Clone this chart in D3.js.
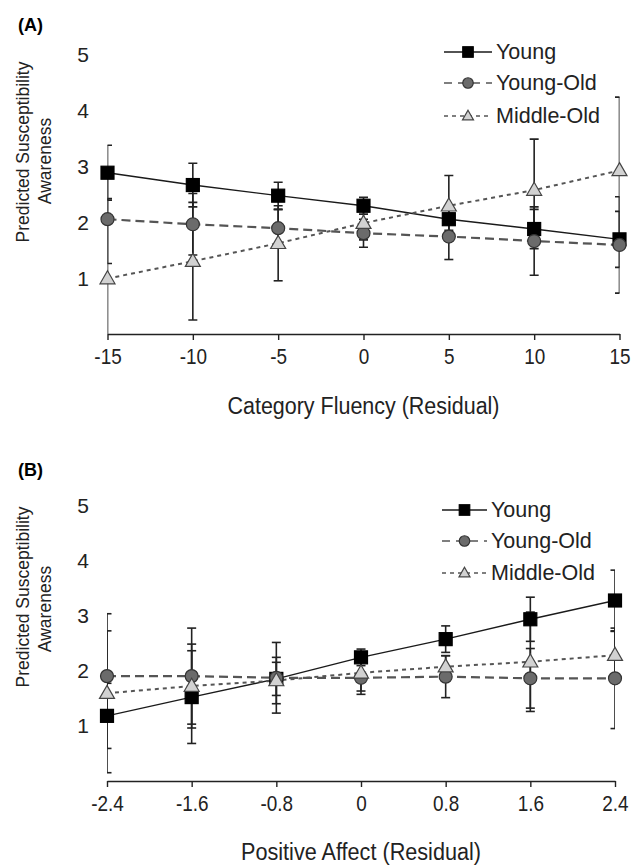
<!DOCTYPE html>
<html>
<head>
<meta charset="utf-8">
<script src="https://cdn.jsdelivr.net/npm/d3@7"></script>
<style>
  html, body { margin: 0; padding: 0; background: #fff; }
  svg { display: block; font-family: 'Liberation Sans', Arial, sans-serif; }
</style>
</head>
<body>
<div id="chart"></div>
<script>
// panel A: category fluency
const fluencyTicks = [-15, -10, -5, 0, 5, 10, 15];
const fluencyYoung = [2.88, 2.66, 2.47, 2.29, 2.05, 1.875, 1.69];
const fluencyYoungErr = [0.49, 0.39, 0.24, 0.15, 0.2, 0.35, 0.5];
const fluencyYoungOld = [2.05, 1.96, 1.89, 1.80, 1.74, 1.66, 1.59];
const fluencyYoungOldErr = [0.79, 0.55, 0.33, 0.25, 0.41, 0.61, 0.86];
const fluencyMiddleOld = [0.99, 1.30, 1.62, 1.98, 2.29, 2.57, 2.92];
const fluencyMiddleOldErr = [1.43, 1.05, 0.67, 0.3, 0.54, 0.91, 1.31];

// panel B: positive affect
const affectTicks = [-2.4, -1.6, -0.8, 0, 0.8, 1.6, 2.4];
const affectYoung = [1.18, 1.52, 1.85, 2.24, 2.57, 2.93, 3.27];
const affectYoungErr = [0.59, 0.84, 0.3, 0.15, 0.24, 0.4, 0.55];
const affectYoungOld = [1.90, 1.90, 1.87, 1.87, 1.89, 1.86, 1.86];
const affectYoungOldErr = [0.82, 0.87, 0.64, 0.3, 0.38, 0.54, 0.91];
const affectMiddleOld = [1.59, 1.72, 1.82, 1.96, 2.07, 2.16, 2.28];
const affectMiddleOldErr = [1.44, 0.76, 0.42, 0.33, 0.2, 0.9, 0.43];

const yTicks = [1, 2, 3, 4, 5];
const groupNames = ['Young', 'Young-Old', 'Middle-Old'];

// one style per group, same order as groupNames
const groupStyle = [
  {shape: 'square', fill: '#000', stroke: '#000', line: '#1a1a1a', width: 1.4, dash: null, legendDash: null},
  {shape: 'circle', fill: '#6b6b6b', stroke: '#333', line: '#555', width: 2.2, dash: '9,5', legendDash: '8,6'},
  {shape: 'triangle', fill: '#d2d2d2', stroke: '#444', line: '#555', width: 2, dash: '4,4', legendDash: '4,4'},
];

const svg = d3.select('#chart')
    .append('svg')
    .attr('width', 643)
    .attr('height', 865);

function drawMarker(g, shape, cx, cy, size, st) {
  let m;
  if (shape === 'square') {
    m = g.append('rect')
        .attr('x', cx - size / 2)
        .attr('y', cy - size / 2)
        .attr('width', size)
        .attr('height', size);
  } else if (shape === 'circle') {
    m = g.append('circle')
        .attr('cx', cx)
        .attr('cy', cy)
        .attr('r', size / 2);
  } else {
    const h = size * 0.87;
    m = g.append('path')
        .attr('d', `M${cx},${cy - h * 0.6}L${cx + size / 2},${cy + h * 0.4}L${cx - size / 2},${cy + h * 0.4}Z`);
  }
  m.attr('fill', st.fill).attr('stroke', st.stroke).attr('stroke-width', 1.2);
}

function drawPanel(p) {
  const x = d3.scaleLinear().domain(d3.extent(p.ticks)).range(p.xRange);
  const y = d3.scaleLinear().domain([0, 5]).range(p.yRange);

  const g = svg.append('g');

  // error bars get cut at the plot edges like in the original
  g.append('clipPath')
      .attr('id', 'clip-' + p.id)
      .append('rect')
      .attr('x', p.xRange[0])
      .attr('y', y(5.5))
      .attr('width', p.xRange[1] - p.xRange[0])
      .attr('height', y(0) - y(5.5));

  g.append('text')
      .attr('x', 18)
      .attr('y', p.labelY)
      .attr('font-size', 18)
      .attr('font-weight', 'bold')
      .attr('dominant-baseline', 'central')
      .text(p.label);

  // y title, two lines
  p.yTitle.forEach((t, i) => {
    g.append('text')
        .attr('transform', `translate(${23 + i * 22},${p.yTitleCenter[i]}) rotate(-90)`)
        .attr('text-anchor', 'middle')
        .attr('dominant-baseline', 'central')
        .attr('font-size', 17.5)
        .attr('fill', '#222')
        .text(t);
  });

  g.selectAll('.ylab')
      .data(yTicks)
      .join('text')
      .attr('x', 83)
      .attr('y', (d) => y(d))
      .attr('text-anchor', 'middle')
      .attr('dominant-baseline', 'central')
      .attr('font-size', 21)
      .attr('fill', '#222')
      .text((d) => d);

  const xAxis = g.append('g')
      .attr('transform', `translate(0,${y(0)})`)
      .call(d3.axisBottom(x)
          .tickValues(p.ticks)
          .tickFormat((d) => String(d))
          .tickSize(6)
          .tickPadding(8)
          .tickSizeOuter(0));
  xAxis.select('.domain').attr('stroke', '#222').attr('stroke-width', 1.4);
  xAxis.selectAll('.tick line').attr('stroke', '#222').attr('stroke-width', 1.4);
  // the original uses a narrow face, squeeze the labels a bit
  xAxis.selectAll('.tick text')
      .attr('font-size', 22)
      .attr('fill', '#222')
      .attr('font-family', null)
      .attr('transform', 'scale(0.86,1)');

  g.append('text')
      .attr('x', (p.xRange[0] + p.xRange[1]) / 2)
      .attr('y', p.xTitleY)
      .attr('text-anchor', 'middle')
      .attr('dominant-baseline', 'central')
      .attr('font-size', 23)
      .attr('fill', '#222')
      .attr('textLength', p.xTitleWidth)
      .attr('lengthAdjust', 'spacingAndGlyphs')
      .text(p.xTitle);

  const clipped = g.append('g').attr('clip-path', `url(#clip-${p.id})`);

  // error bars
  p.series.forEach((s) => {
    s.values.forEach((v, i) => {
      const cx = x(p.ticks[i]);
      const top = y(v + s.err[i]);
      const bot = y(v - s.err[i]);
      clipped.append('line')
          .attr('x1', cx).attr('x2', cx)
          .attr('y1', top).attr('y2', bot)
          .attr('stroke', '#222').attr('stroke-width', 1.6);
      [top, bot].forEach((yy) => {
        clipped.append('line')
            .attr('x1', cx - 4.5).attr('x2', cx + 4.5)
            .attr('y1', yy).attr('y2', yy)
            .attr('stroke', '#222').attr('stroke-width', 1.6);
      });
    });
  });

  // connecting lines
  const line = d3.line()
      .x((d, i) => x(p.ticks[i]))
      .y((d) => y(d));
  p.series.forEach((s, k) => {
    const st = groupStyle[k];
    clipped.append('path')
        .datum(s.values)
        .attr('d', line)
        .attr('fill', 'none')
        .attr('stroke', st.line)
        .attr('stroke-width', st.width)
        .attr('stroke-dasharray', st.dash);
  });

  // markers on top
  p.series.forEach((s, k) => {
    const st = groupStyle[k];
    s.values.forEach((v, i) => {
      drawMarker(g, st.shape, x(p.ticks[i]), y(v), st.shape === 'triangle' ? 15 : 13, st);
    });
  });

  // legend
  groupNames.forEach((name, k) => {
    const st = groupStyle[k];
    const ly = p.legend.rows[k];
    g.append('line')
        .attr('x1', p.legend.x0).attr('x2', p.legend.x1)
        .attr('y1', ly).attr('y2', ly)
        .attr('stroke', st.line)
        .attr('stroke-width', k === 0 ? 1.4 : 1.6)
        .attr('stroke-dasharray', st.legendDash);
    drawMarker(g, st.shape, (p.legend.x0 + p.legend.x1) / 2, ly, st.shape === 'triangle' ? 11 : 10.5, st);
    g.append('text')
        .attr('x', p.legend.x1 + 4)
        .attr('y', ly)
        .attr('dominant-baseline', 'central')
        .attr('font-size', 21.5)
        .attr('fill', '#222')
        .text(name);
  });
}

drawPanel({
  id: 'a',
  label: '(A)',
  labelY: 25,
  ticks: fluencyTicks,
  xRange: [107.5, 619.5],
  yRange: [334, 54],
  yTitle: ['Predicted Susceptibility', 'Awareness'],
  yTitleCenter: [152, 161],
  xTitle: 'Category Fluency  (Residual)',
  xTitleY: 406,
  xTitleWidth: 272,
  series: [
    {values: fluencyYoung, err: fluencyYoungErr},
    {values: fluencyYoungOld, err: fluencyYoungOldErr},
    {values: fluencyMiddleOld, err: fluencyMiddleOldErr},
  ],
  legend: {x0: 444, x1: 492, rows: [52, 83, 116]},
});

drawPanel({
  id: 'b',
  label: '(B)',
  labelY: 470,
  ticks: affectTicks,
  xRange: [107, 615],
  yRange: [781, 505],
  yTitle: ['Predicted Susceptibility', 'Awareness'],
  yTitleCenter: [597, 609],
  xTitle: 'Positive Affect  (Residual)',
  xTitleY: 852,
  xTitleWidth: 240,
  series: [
    {values: affectYoung, err: affectYoungErr},
    {values: affectYoungOld, err: affectYoungOldErr},
    {values: affectMiddleOld, err: affectMiddleOldErr},
  ],
  legend: {x0: 442, x1: 487, rows: [510, 541, 573]},
});
</script>
</body>
</html>
